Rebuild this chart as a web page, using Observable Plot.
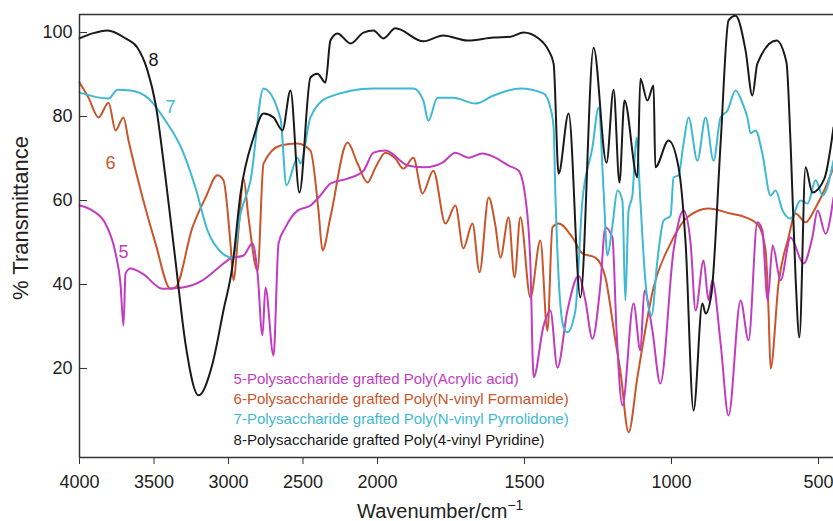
<!DOCTYPE html>
<html><head><meta charset="utf-8">
<script src="https://cdn.jsdelivr.net/npm/d3@7"></script>
<script src="https://cdn.jsdelivr.net/npm/@observablehq/plot@0.6"></script>
<style>body{margin:0;background:#fff}</style>
</head><body><div id="chart"></div>
<script>
const xTicks = [4000, 3500, 3000, 2500, 2000, 1500, 1000, 500];
const yTicks = [20, 40, 60, 80, 100];
const legendLabels = [
  "5-Polysaccharide grafted Poly(Acrylic acid)",
  "6-Polysaccharide grafted Poly(N-vinyl Formamide)",
  "7-Polysaccharide grafted Poly(N-vinyl Pyrrolidone)",
  "8-Polysaccharide grafted Poly(4-vinyl Pyridine)"
];
const colors = ["#c23cbf", "#c8552b", "#3fb8d4", "#1a1a1a"];

// [wavenumber cm-1, % transmittance]
const series5 = [[4000,58.8],[3913,57.6],[3826,54.5],[3758,47.4],[3725,40.2],[3705,30.2],[3691,42.6],[3658,43.8],[3577,42.6],[3443,39.0],[3309,39.3],[3175,41.0],[3067,44.0],[2987,46.2],[2899,46.9],[2839,49.8],[2805,42.6],[2772,27.9],[2752,39.3],[2698,23.1],[2664,49.8],[2618,53.6],[2537,57.6],[2450,58.8],[2383,61.2],[2316,64.0],[2201,65.2],[2094,67.1],[2027,71.4],[1973,71.9],[1895,68.3],[1837,67.9],[1779,69.0],[1735,71.4],[1691,70.2],[1643,71.2],[1599,70.2],[1554,68.3],[1520,67.1],[1497,60.7],[1480,45.0],[1469,17.9],[1435,30.2],[1412,33.8],[1388,20.2],[1354,33.8],[1316,42.1],[1293,36.2],[1269,27.1],[1242,39.8],[1225,53.6],[1201,51.2],[1187,29.0],[1167,11.2],[1129,35.5],[1106,24.3],[1092,38.6],[1065,29.0],[1038,16.4],[993,48.1],[959,57.6],[935,49.8],[918,33.8],[891,45.7],[874,36.2],[861,41.0],[833,26.0],[806,8.8],[765,36.2],[738,26.7],[708,54.8],[691,52.9],[673,36.2],[656,49.3],[629,41.0],[595,51.2],[551,45.0],[521,51.2],[503,57.6],[476,52.1],[449,60.7]];

const series6 = [[4000,88.1],[3940,84.5],[3872,79.8],[3805,83.3],[3758,76.7],[3705,79.8],[3671,74.3],[3577,60.7],[3490,49.8],[3389,39.0],[3356,39.3],[3242,53.6],[3154,60.7],[3074,66.0],[3034,64.8],[2987,49.8],[2967,41.0],[2933,52.9],[2899,65.2],[2866,56.0],[2805,43.3],[2765,68.8],[2651,73.1],[2537,73.6],[2450,71.9],[2396,57.6],[2369,48.1],[2316,56.0],[2201,73.8],[2134,68.8],[2067,64.3],[2013,67.9],[1973,71.4],[1939,70.0],[1912,67.6],[1878,70.2],[1847,61.7],[1810,67.1],[1769,54.5],[1735,58.8],[1708,48.6],[1677,54.5],[1653,42.9],[1622,60.7],[1599,54.0],[1582,46.4],[1554,56.0],[1534,41.7],[1514,56.0],[1480,36.9],[1446,50.5],[1422,29.0],[1405,53.6],[1384,54.5],[1337,51.2],[1303,47.4],[1259,46.4],[1225,41.7],[1191,26.7],[1174,19.5],[1146,4.8],[1116,17.9],[1061,39.3],[1003,49.8],[946,56.0],[874,58.1],[799,56.9],[748,56.0],[704,54.0],[680,48.1],[670,33.8],[663,20.0],[636,40.2],[602,51.2],[578,56.9],[544,54.8],[510,58.3],[476,63.1],[449,67.9]];

const series7 = [[4000,85.7],[3805,84.3],[3745,86.4],[3658,86.2],[3537,84.3],[3423,79.0],[3309,71.9],[3222,63.1],[3141,52.9],[3040,47.4],[2973,46.4],[2919,56.9],[2852,64.8],[2765,86.7],[2651,79.5],[2611,63.6],[2537,70.2],[2517,68.8],[2450,79.8],[2336,84.5],[2027,86.7],[1878,86.7],[1844,83.8],[1827,79.0],[1796,84.5],[1742,84.5],[1667,83.1],[1605,85.0],[1514,86.7],[1435,85.5],[1412,82.1],[1401,77.4],[1395,61.7],[1384,41.7],[1367,29.8],[1354,28.6],[1327,33.8],[1303,60.0],[1269,72.6],[1248,82.1],[1231,62.4],[1218,46.9],[1201,54.0],[1184,62.4],[1167,60.0],[1157,36.2],[1146,57.6],[1133,61.2],[1119,75.0],[1106,60.0],[1089,41.0],[1068,32.6],[1048,45.7],[1027,55.2],[1003,56.4],[993,65.5],[976,66.0],[959,73.6],[942,79.8],[912,69.5],[884,79.8],[857,69.5],[833,79.8],[810,81.4],[782,86.2],[758,83.1],[741,79.5],[731,76.0],[714,76.7],[691,71.2],[663,61.2],[646,62.4],[622,57.6],[595,55.7],[561,60.0],[537,59.3],[510,64.8],[486,61.2],[449,69.5]];

const series8 = [[4000,98.6],[3913,99.8],[3812,100.5],[3691,98.6],[3611,96.4],[3544,91.0],[3490,83.1],[3423,65.5],[3356,45.7],[3289,26.0],[3201,13.6],[3107,21.2],[3034,33.8],[2973,44.5],[2919,61.7],[2832,75.0],[2765,80.7],[2698,79.8],[2638,76.7],[2584,86.2],[2524,61.9],[2450,89.3],[2403,90.2],[2349,88.1],[2316,98.1],[2269,99.8],[2181,97.4],[2094,100.0],[2027,100.5],[1980,98.6],[1939,101.0],[1844,97.9],[1776,99.3],[1694,98.1],[1605,98.8],[1548,99.0],[1503,100.0],[1452,98.6],[1418,95.7],[1401,92.6],[1384,66.4],[1350,80.7],[1310,36.9],[1265,96.4],[1221,69.0],[1197,86.4],[1177,64.3],[1160,83.8],[1116,65.5],[1106,89.0],[1082,83.8],[1061,87.4],[1055,67.9],[1010,74.3],[976,67.9],[952,49.8],[925,10.0],[895,35.5],[884,33.1],[864,37.9],[833,73.6],[806,102.9],[782,104.0],[748,95.7],[725,85.0],[708,92.6],[643,98.1],[609,92.9],[595,73.6],[578,41.7],[565,27.4],[544,67.9],[521,61.9],[480,65.2],[449,77.4]];

const toRows = (arr) => arr.map(([wn, t]) => ({wn, t}));
const font = "'Liberation Sans', Arial, Helvetica, sans-serif";
const ink = "#222";

const lineOpts = (c) => ({x: "wn", y: "t", stroke: c, strokeWidth: 2, curve: "monotone-x"});

const plot = Plot.plot({
  width: 833,
  height: 521,
  marginTop: 14,
  marginBottom: 64,
  marginLeft: 79,
  marginRight: 0,
  style: {fontFamily: font, background: "#fff", color: ink},
  x: {type: "linear", domain: [4000, 2000, 449], range: [79, 377, 833], axis: null},
  y: {domain: [-1.2, 104.3], axis: null},
  marks: [
    Plot.line(toRows(series6), lineOpts(colors[1])),
    Plot.line(toRows(series5), lineOpts(colors[0])),
    Plot.line(toRows(series7), lineOpts(colors[2])),
    Plot.line(toRows(series8), lineOpts(colors[3])),
    Plot.ruleY([104.3], {stroke: "#333", strokeWidth: 1.5}),
    Plot.ruleY([-1.2], {stroke: "#333", strokeWidth: 1.5}),
    Plot.ruleX([4000], {stroke: "#333", strokeWidth: 1.5}),
    Plot.axisX(xTicks, {anchor: "bottom", tickSize: 7, tickPadding: 11, fontSize: 18, stroke: "#333", fill: ink, label: null, tickFormat: d => String(d)}),
    Plot.axisY(yTicks, {anchor: "left", tickSize: 8, dx: 8, stroke: "#333", tickFormat: () => "", label: null}),
    Plot.axisY(yTicks, {anchor: "left", tickSize: 0, tickPadding: 7, fontSize: 18, fill: ink, label: null, tickFormat: d => String(d)}),
    Plot.text(["8"], {x: 3503, y: 93.3, text: d => d, fill: colors[3], fontSize: 18}),
    Plot.text(["7"], {x: 3389, y: 82.2, text: d => d, fill: colors[2], fontSize: 18}),
    Plot.text(["6"], {x: 3792, y: 68.8, text: d => d, fill: colors[1], fontSize: 18}),
    Plot.text(["5"], {x: 3705, y: 47.6, text: d => d, fill: colors[0], fontSize: 18}),
    Plot.text(legendLabels, {
      x: 2966,
      y: (d, i) => 17.5 - i * 4.83,
      text: d => d,
      fill: (d, i) => colors[i],
      textAnchor: "start",
      fontSize: 15
    })
  ]
});

const svg = d3.select(plot);
const xt = svg.append("text")
  .attr("x", 357).attr("y", 518)
  .attr("text-anchor", "start")
  .attr("font-size", 20).attr("fill", ink).attr("font-family", font)
  .text("Wavenumber/cm");
xt.append("tspan").attr("dy", -8).attr("font-size", 14).text("\u22121");
svg.append("text")
  .attr("transform", "translate(28,218) rotate(-90)")
  .attr("text-anchor", "middle")
  .attr("font-size", 22).attr("fill", ink).attr("font-family", font)
  .text("% Transmittance");

document.getElementById("chart").appendChild(plot);
</script>
</body></html>
